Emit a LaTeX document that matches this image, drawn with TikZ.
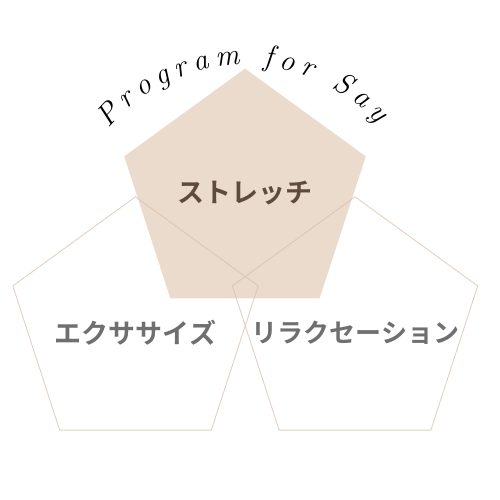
\documentclass[tikz,border=0pt]{standalone}
\usepackage{fontspec}
\newfontfamily\jpfont{Noto Sans CJK JP}[BoldFont={* Bold}]
\usetikzlibrary{decorations.text,calc}
\definecolor{pentfill}{HTML}{EBDBCC}
\definecolor{pentline}{HTML}{D4BFAC}
\definecolor{stretchtxt}{HTML}{5E4B3E}
\definecolor{graytxt}{HTML}{6F6F6F}
\tikzset{
  outlinepent/.style={draw=pentline, draw opacity=0.7, line width=0.9pt, line join=miter},
  toppent/.style={fill=pentfill, draw=none},
  jplabel/.style={font=\jpfont\bfseries\fontsize{27}{30}\selectfont, inner sep=0pt, anchor=center},
}
\begin{document}
\begin{tikzpicture}[x=1pt,y=1pt]
\useasboundingbox (0,0) rectangle (499,500);
% top filled pentagon
\coordinate (tc) at (245,304.4);
\fill[toppent] ($(tc)+(90:127)$) -- ($(tc)+(162:127)$) -- ($(tc)+(234:127)$) -- ($(tc)+(306:127)$) -- ($(tc)+(18:127)$) -- cycle;
% side outline pentagons
\coordinate (lc) at (135.5,174.2);
\coordinate (rc) at (355,174.2);
\draw[outlinepent] ($(lc)+(90:129)$) -- ($(lc)+(162:129)$) -- ($(lc)+(234:129)$) -- ($(lc)+(306:129)$) -- ($(lc)+(18:129)$) -- cycle;
\draw[outlinepent] ($(rc)+(90:129)$) -- ($(rc)+(162:129)$) -- ($(rc)+(234:129)$) -- ($(rc)+(306:129)$) -- ($(rc)+(18:129)$) -- cycle;
% labels
\node[jplabel, text=stretchtxt] (stretch) at (245,307) {ストレッチ};
\node[jplabel, text=graytxt] (exercise) at (135.5,167) {エクササイズ};
\node[jplabel, text=graytxt, font=\jpfont\bfseries\fontsize{26}{30}\selectfont] (relax) at (355.5,167) {リラクセーション};
% curved script title
\path[decorate, decoration={text along path, text align={fit to path},
  text={|\itshape\fontsize{30}{34}\selectfont|Program for Say}}]
  (245,257) ++(140:178) arc[start angle=140, end angle=42, radius=178];
\end{tikzpicture}
\end{document}
